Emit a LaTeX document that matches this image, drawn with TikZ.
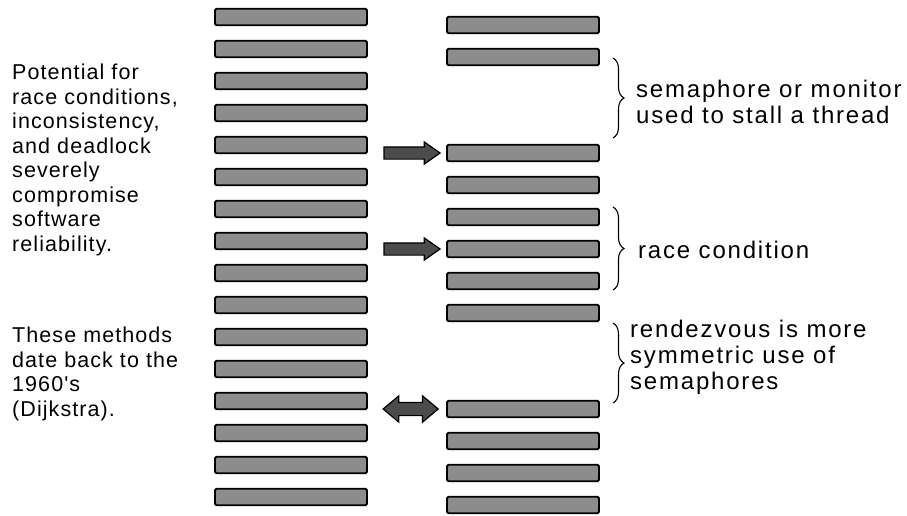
\documentclass[tikz,border=0pt]{standalone}
\usepackage{fontspec}
\setmainfont{Liberation Sans}
\newfontfamily\notefont[LetterSpace=5]{Liberation Sans}
\newfontfamily\sidefont[LetterSpace=7.5]{Liberation Sans}
\usepackage{xcolor}
\usetikzlibrary{arrows.meta,positioning,shapes.arrows,decorations.pathreplacing}
\definecolor{BarGray}{HTML}{8C8C8C}
\definecolor{PushGray}{HTML}{4C4C4C}
\tikzset{
  thbar/.style={draw=black, fill=BarGray, line width=1.8pt, rounded corners=1.5pt, minimum width=152pt, minimum height=16.5pt, inner sep=0pt},
  thpush/.style={single arrow, draw=black, fill=PushGray, line width=1.2pt, minimum height=56pt, inner xsep=0pt, inner ysep=5.5pt, single arrow head extend=5pt, single arrow tip angle=70},
  thmeet/.style={double arrow, draw=black, fill=PushGray, line width=1.2pt, minimum height=55pt, inner xsep=0pt, inner ysep=6pt, double arrow head extend=6.5pt, double arrow tip angle=80},
  thbrace/.style={decorate, decoration={brace, amplitude=11pt}, line width=1.1pt},
  thnote/.style={align=left, inner sep=0pt, font=\notefont\fontsize{21.5}{24.5}\selectfont},
  thside/.style={align=left, inner sep=0pt, font=\sidefont\fontsize{24}{26}\selectfont}
}

\begin{document}
\begin{tikzpicture}[x=1pt, y=-1pt]
  \useasboundingbox (0,0) rectangle (907,515);
  \foreach \i in {1,...,16}
    \node[thbar] (l\i) at (291, {17+32*(\i-1)}) {};
  \foreach \i in {1,2,5,6,7,8,9,10,13,14,15,16}
    \node[thbar] (r\i) at (523, {25+32*(\i-1)}) {};
  \node[thpush, left=5pt of r5] (a1) {};
  \node[thpush, left=5pt of r8] (a2) {};
  \node[thmeet, left=7pt of r13] (a3) {};
  \node[thnote, anchor=north west] (cause) at (12,64) {Potential for\\race conditions,\\inconsistency,\\and deadlock\\severely\\compromise\\software\\reliability.};
  \node[thnote, anchor=north west] (history) at (12,327) {These methods\\date back to the\\1960's\\(Dijkstra).};
  \draw[thbrace] (613,58) -- (613,138);
  \draw[thbrace] (613,207) -- (613,290);
  \draw[thbrace] (613,323) -- (613,403);
  \node[thside, anchor=north west] (stall) at (636,80) {semaphore or monitor\\used to stall a thread};
  \node[thside, anchor=base west] (race) at (638,258) {race condition};
  \node[thside, anchor=north west] (rendez) at (630,320) {rendezvous is more\\symmetric use of\\semaphores};
\end{tikzpicture}
\end{document}
